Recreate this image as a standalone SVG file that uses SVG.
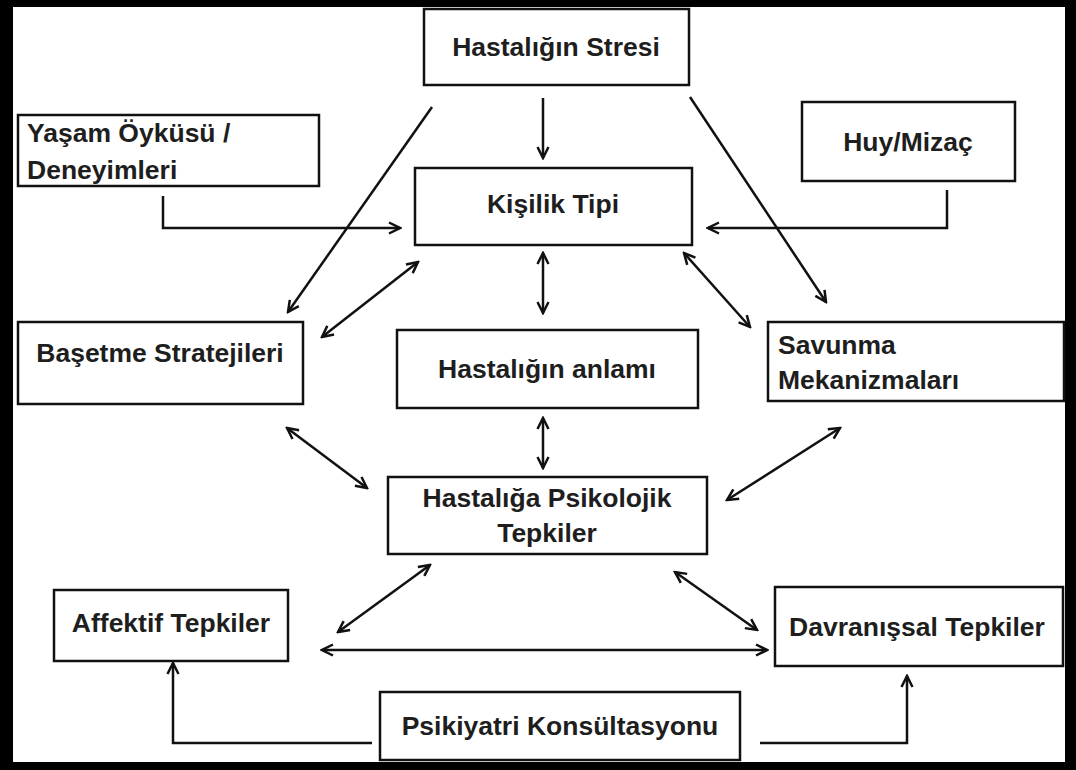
<svg xmlns="http://www.w3.org/2000/svg" width="1076" height="770" viewBox="0 0 1076 770">
<style>
.box{fill:#fff;stroke:#111;stroke-width:2.5}
.t{font-family:"Liberation Sans",Arial,sans-serif;font-weight:bold;font-size:26.5px;fill:#1e1e1e}
.c{text-anchor:middle}
.ln{fill:none;stroke:#111;stroke-width:2.5}
</style>
<defs>
<marker id="ah" viewBox="0 0 14 14" refX="12" refY="7" markerWidth="14" markerHeight="14" markerUnits="userSpaceOnUse" orient="auto-start-reverse">
<path d="M1,1.5 L12,7 L1,12.5" fill="none" stroke="#111" stroke-width="2.5"/>
</marker>
</defs>
<rect x="0" y="0" width="1076" height="770" fill="#000"/>
<rect x="13" y="7" width="1052" height="755" fill="#fff"/>

<g id="connectors">
<line class="ln" x1="543" y1="98" x2="543" y2="158" marker-end="url(#ah)"/>
<line class="ln" x1="432" y1="107" x2="288" y2="312" marker-end="url(#ah)"/>
<line class="ln" x1="690" y1="97" x2="826" y2="302" marker-end="url(#ah)"/>
<polyline class="ln" points="163,196 163,228 400,228" marker-end="url(#ah)"/>
<polyline class="ln" points="947,190 947,228 708,228" marker-end="url(#ah)"/>
<line class="ln" x1="418" y1="262" x2="322" y2="337" marker-start="url(#ah)" marker-end="url(#ah)"/>
<line class="ln" x1="543" y1="253" x2="543" y2="313" marker-start="url(#ah)" marker-end="url(#ah)"/>
<line class="ln" x1="684" y1="253" x2="750" y2="327" marker-start="url(#ah)" marker-end="url(#ah)"/>
<line class="ln" x1="287" y1="428" x2="367" y2="488" marker-start="url(#ah)" marker-end="url(#ah)"/>
<line class="ln" x1="543" y1="418" x2="543" y2="468" marker-start="url(#ah)" marker-end="url(#ah)"/>
<line class="ln" x1="840" y1="428" x2="727" y2="500" marker-start="url(#ah)" marker-end="url(#ah)"/>
<line class="ln" x1="430" y1="565" x2="338" y2="632" marker-start="url(#ah)" marker-end="url(#ah)"/>
<line class="ln" x1="675" y1="572" x2="757" y2="630" marker-start="url(#ah)" marker-end="url(#ah)"/>
<line class="ln" x1="322" y1="650" x2="767" y2="650" marker-start="url(#ah)" marker-end="url(#ah)"/>
<polyline class="ln" points="372,743 173,743 173,663" marker-end="url(#ah)"/>
<polyline class="ln" points="760,743 907,743 907,676" marker-end="url(#ah)"/>
</g>

<g id="stresi"><rect class="box" x="424" y="9" width="265" height="76"/><text class="t c" x="556" y="56">Hastalığın Stresi</text></g>
<g id="yasam"><rect class="box" x="18" y="115" width="301" height="71"/><text class="t" x="27" y="142">Yaşam Öyküsü /</text><text class="t" x="27" y="179">Deneyimleri</text></g>
<g id="huy"><rect class="box" x="802" y="102" width="213" height="79"/><text class="t c" x="908" y="151">Huy/Mizaç</text></g>
<g id="kisilik"><rect class="box" x="415" y="168" width="277" height="77"/><text class="t c" x="553" y="213">Kişilik Tipi</text></g>
<g id="basetme"><rect class="box" x="18" y="322" width="285" height="82"/><text class="t c" x="160" y="362">Başetme Stratejileri</text></g>
<g id="anlami"><rect class="box" x="397" y="330" width="301" height="78"/><text class="t c" x="547" y="378">Hastalığın anlamı</text></g>
<g id="savunma"><rect class="box" x="768" y="322" width="296" height="79"/><text class="t" x="778" y="354">Savunma</text><text class="t" x="778" y="389">Mekanizmaları</text></g>
<g id="psikolojik"><rect class="box" x="388" y="477" width="319" height="77"/><text class="t c" x="547" y="507">Hastalığa Psikolojik</text><text class="t c" x="547" y="542">Tepkiler</text></g>
<g id="affektif"><rect class="box" x="54" y="590" width="234" height="71"/><text class="t c" x="171" y="632">Affektif Tepkiler</text></g>
<g id="davranissal"><rect class="box" x="775" y="587" width="288" height="79"/><text class="t c" x="917" y="636">Davranışsal Tepkiler</text></g>
<g id="psikiyatri"><rect class="box" x="380" y="692" width="360" height="68"/><text class="t c" x="560" y="735">Psikiyatri Konsültasyonu</text></g>
</svg>
